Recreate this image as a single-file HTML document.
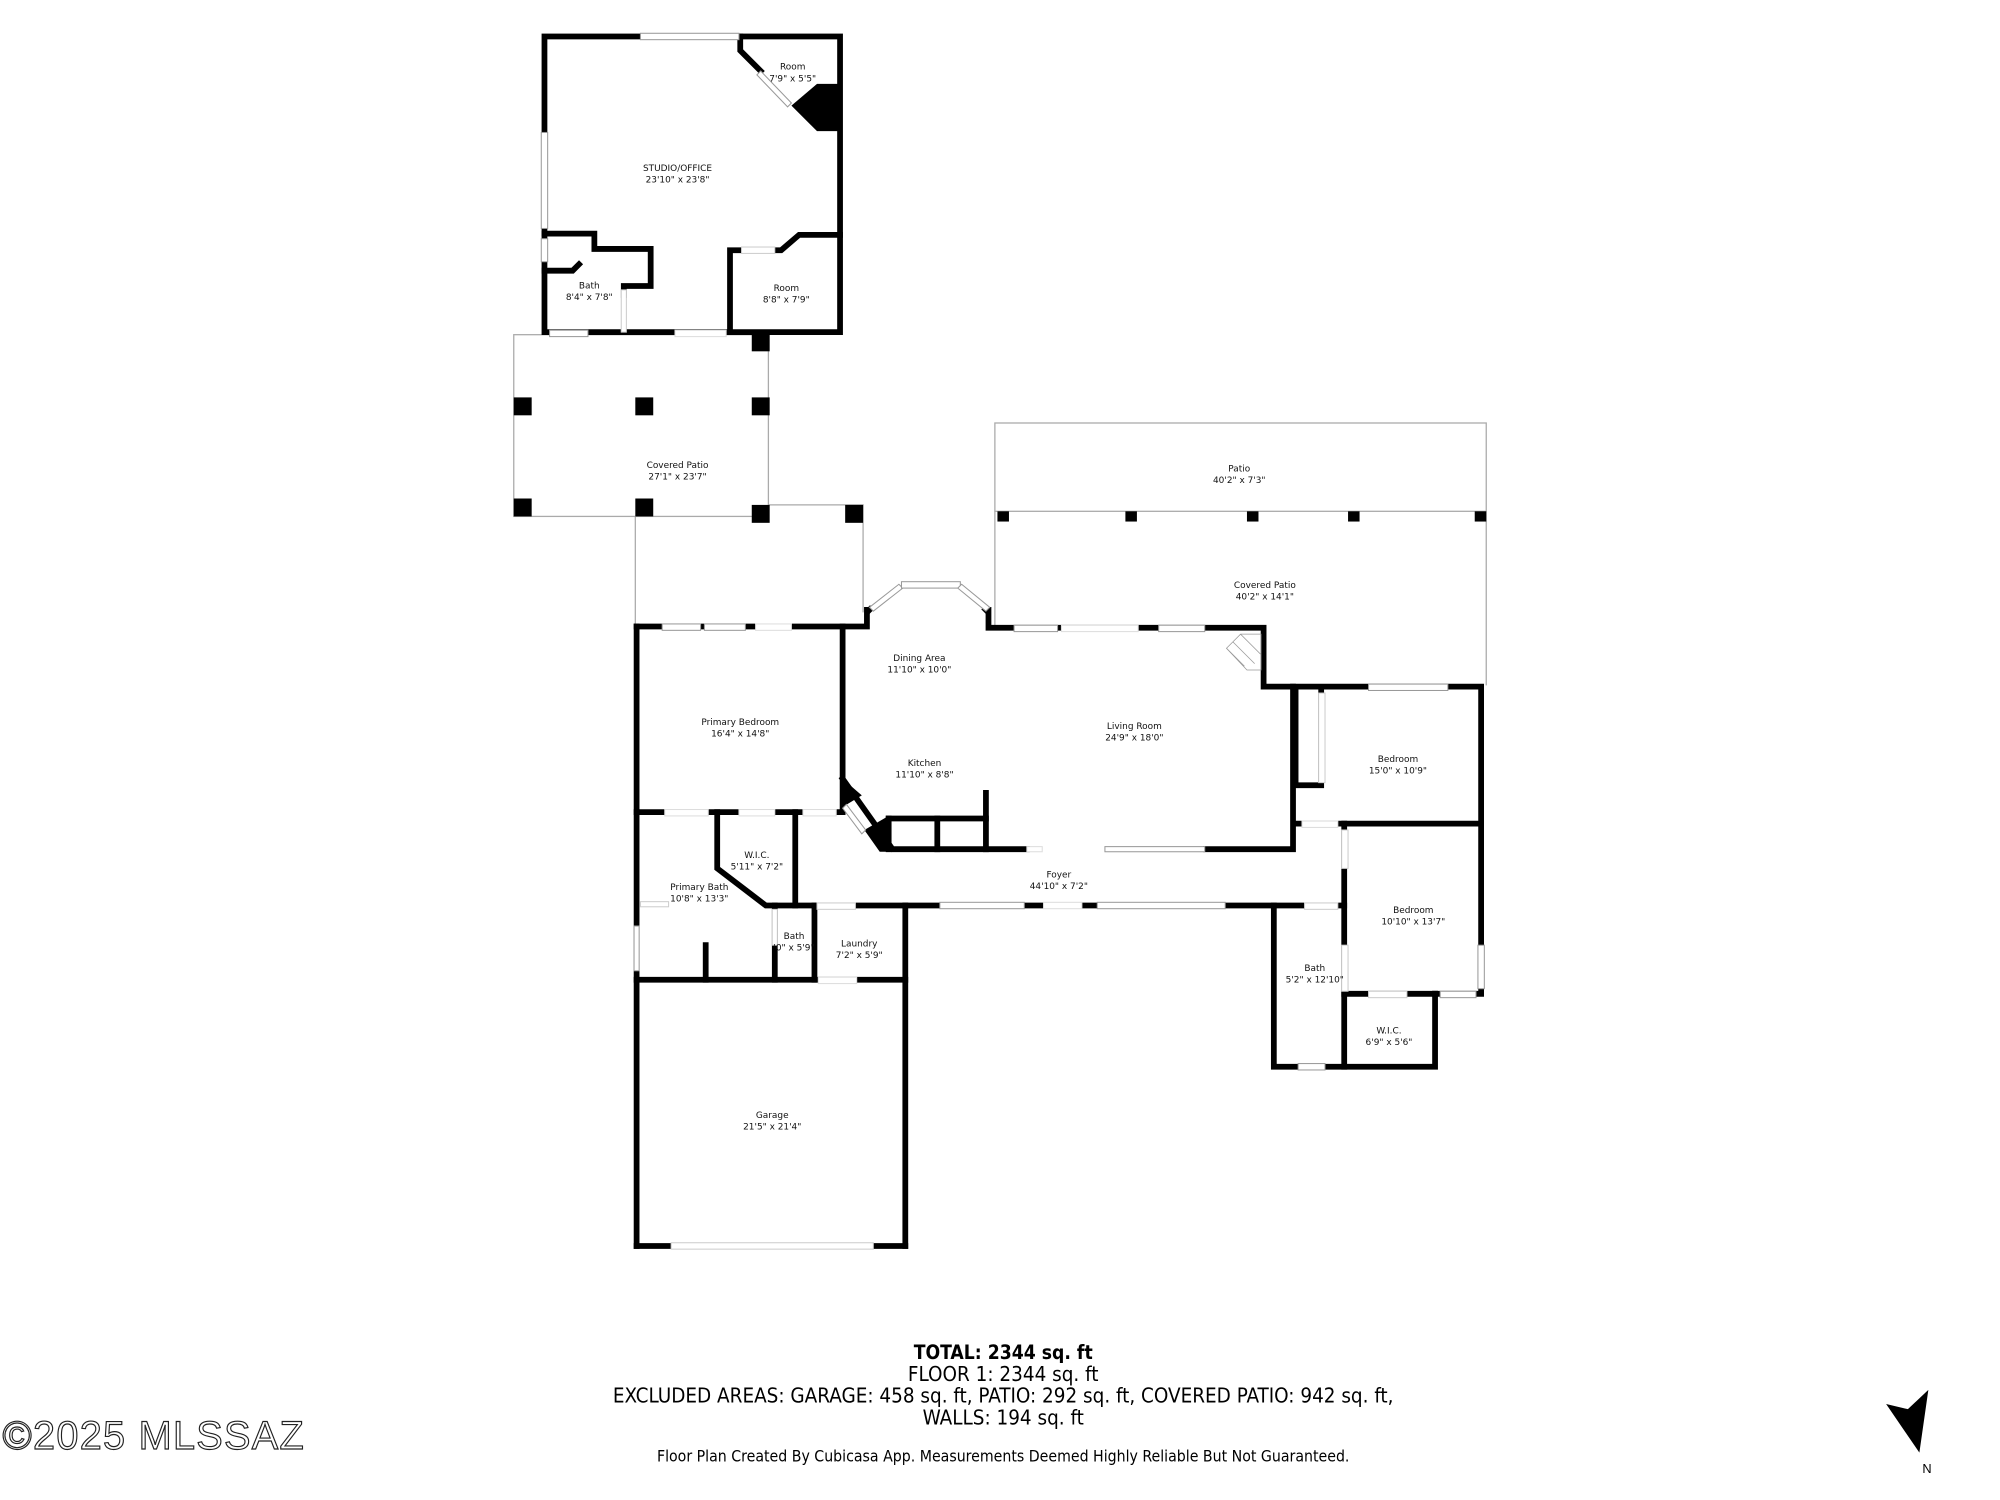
<!DOCTYPE html>
<html><head><meta charset="utf-8"><style>
html,body{margin:0;padding:0;background:#fff;}
svg{display:block}
.t{font-family:"DejaVu Sans","Liberation Sans",sans-serif;font-size:7px;fill:#111;text-anchor:middle}
.f{font-family:"DejaVu Sans Condensed","Liberation Sans Narrow","Liberation Sans",sans-serif;fill:#000;text-anchor:middle}
</style></head><body>
<svg width="2000" height="1500" viewBox="0 0 1563 1172" preserveAspectRatio="none" xmlns="http://www.w3.org/2000/svg">
<rect width="1563" height="1172" fill="#fff"/>
<g transform="translate(-2.5,-1.5)">
<g fill="none" stroke="#aaa" stroke-width="1">
<rect x="404" y="263" width="199" height="142"/>
<polyline points="499,405 499,491"/>
<polyline points="603,396 677,396 677,480"/>
<rect x="780" y="332" width="384" height="69"/>
<polyline points="780,401 780,491"/>
<polyline points="1164,401 1164,537"/>
</g>
<g fill="#000">
<rect x="404" y="312" width="14" height="14"/><rect x="499" y="312" width="14" height="14"/><rect x="590" y="312" width="14" height="14"/>
<rect x="404" y="391" width="14" height="14"/><rect x="499" y="391" width="14" height="14"/><rect x="590" y="396" width="14" height="14"/>
<rect x="663" y="396" width="14" height="14"/><rect x="590" y="262" width="14" height="14"/>
<rect x="782" y="401" width="9" height="8"/><rect x="882" y="401" width="9" height="8"/><rect x="977" y="401" width="9" height="8"/><rect x="1056" y="401" width="9" height="8"/><rect x="1155" y="401" width="9" height="8"/>
</g>
<g fill="none" stroke="#000" stroke-width="4.5" stroke-linecap="square" stroke-linejoin="miter">
<rect x="428" y="30" width="231" height="231"/>
<polyline points="581,30 581,41 597,57"/>
<polyline points="428,184 467,184 467,196 511,196 511,225 490,225 490,232"/>
<polyline points="428,213 450,213 455,208"/>
<polyline points="573,261 573,197 582,197"/>
<polyline points="608,197 613,197 627,185 659,185"/>
<polyline points="500,491 680,491 680,478"/>
<polyline points="775,478 775,492 990,492 990,538 1160,538 1160,778 1124,778"/>
<line x1="500" y1="491" x2="500" y2="975"/>
<line x1="661" y1="491" x2="661" y2="636"/>
<line x1="500" y1="636" x2="661" y2="636"/>
<polyline points="563,636 563,680 601,709 710,709"/>
<line x1="624" y1="636" x2="624" y2="709"/>
<line x1="608" y1="709" x2="608" y2="767"/>
<line x1="639" y1="709" x2="639" y2="767"/>
<line x1="710" y1="709" x2="710" y2="975"/>
<line x1="500" y1="767" x2="710" y2="767"/>
<line x1="554" y1="740" x2="554" y2="767"/>
<polyline points="500,975 527,975"/><polyline points="685,975 710,975"/>
<polyline points="661,610 700,665 805,665"/>
<line x1="773" y1="621" x2="773" y2="665"/>
<polyline points="697,641 773,641"/>
<line x1="697" y1="641" x2="697" y2="665"/><line x1="735" y1="641" x2="735" y2="665"/>
<polyline points="945,665 1013,665 1013,538"/>
<polyline points="710,709 998,709 998,835 1124,835 1124,778"/>
<polyline points="998,709 1053,709"/>
<line x1="1053" y1="645" x2="1053" y2="835"/>
<line x1="1053" y1="778" x2="1124" y2="778"/>
<line x1="1015" y1="645" x2="1160" y2="645"/>
<polyline points="1015,540 1015,615 1035,615 1035,540"/>
</g>
<polygon points="621,84 641,67 657,67 657,104 641,104" fill="#000"/>
<polygon points="661,610 661,632 676,623" fill="#000"/>
<polygon points="678,650 697,639 697,667 690,667" fill="#000"/>
<g fill="#fff" stroke="#999" stroke-width="0.8">
<rect x="503" y="27.5" width="77" height="5"/>
<rect x="425.5" y="105" width="5" height="75"/>
<rect x="425.5" y="188" width="5" height="18"/>
<rect x="432" y="259.5" width="30" height="5"/>
<rect x="530" y="259.5" width="40" height="5" stroke="#ddd"/>
<rect x="488" y="228" width="4" height="33" stroke="#ccc"/>
<rect x="582" y="194.5" width="26" height="5" stroke="#ccc"/>
<rect x="520" y="489" width="30" height="5"/><rect x="553" y="489" width="32" height="5"/>
<rect x="593" y="489" width="28" height="5" stroke="#ddd"/>
<rect x="795" y="490" width="34" height="5"/><rect x="832" y="490" width="60" height="5" stroke="#ddd"/><rect x="908" y="490" width="36" height="5"/>
<rect x="1072" y="536" width="62" height="5"/>
<rect x="1033" y="543" width="5" height="70" stroke="#ccc"/>
<rect x="1020" y="643" width="28" height="5" stroke="#ddd"/>
<rect x="1051" y="650" width="5" height="30" stroke="#ccc"/>
<rect x="1051" y="740" width="5" height="36" stroke="#ccc"/>
<rect x="1022" y="707" width="26" height="5" stroke="#ccc"/>
<rect x="1157.5" y="740" width="5" height="34"/>
<rect x="1128" y="776" width="28" height="5"/>
<rect x="1017" y="832.5" width="21" height="5"/>
<rect x="1072" y="776" width="30" height="5" stroke="#ccc"/>
<rect x="737" y="706.5" width="66" height="5"/><rect x="818" y="706.5" width="30" height="5" stroke="#ddd"/><rect x="860" y="706.5" width="100" height="5"/>
<rect x="866" y="663" width="78" height="4"/>
<rect x="805" y="663" width="12" height="4" stroke="#ddd"/>
<rect x="527" y="972.5" width="158" height="5" stroke="#ccc"/>
<rect x="642" y="765" width="30" height="5" stroke="#ddd"/>
<rect x="522" y="634" width="34" height="5" stroke="#ddd"/><rect x="580" y="634" width="28" height="5" stroke="#ddd"/><rect x="630" y="634" width="26" height="5" stroke="#ddd"/>
<rect x="498" y="725" width="4" height="35"/>
<rect x="606" y="712" width="4" height="28" stroke="#ccc"/>
<rect x="641" y="707" width="30" height="5" stroke="#ccc"/>
<rect x="503" y="706" width="22" height="4" stroke="#ccc"/>
</g>
<g fill="none" stroke="#000" stroke-width="4.5">
<line x1="680" y1="480" x2="684" y2="476"/><line x1="775" y1="480" x2="771" y2="476"/>
</g>
<g fill="#fff" stroke="#999" stroke-width="0.8">
<polygon points="682,476 705,458 708,461 685,479"/>
<rect x="707" y="456" width="46" height="5"/>
<polygon points="754,458 776,476 773,479 751,461"/>
<polygon points="597,57 621,82 618,85 594,60"/>
<polygon points="664,630 679,650 676,653 661,633"/>
</g>
<g stroke="#999" stroke-width="0.6" fill="none">
<polygon points="961,508 972,497 988,497 988,525 977,525"/>
<line x1="966" y1="503" x2="983" y2="520"/><line x1="972" y1="497" x2="988" y2="513"/><line x1="961" y1="508" x2="975" y2="522"/>
</g>
<g class="t">
<text x="622" y="56">Room</text><text x="622" y="65">7'9" x 5'5"</text>
<text x="532" y="135">STUDIO/OFFICE</text><text x="532" y="144">23'10" x 23'8"</text>
<text x="463" y="227">Bath</text><text x="463" y="236">8'4" x 7'8"</text>
<text x="617" y="229">Room</text><text x="617" y="238">8'8" x 7'9"</text>
<text x="532" y="367">Covered Patio</text><text x="532" y="376">27'1" x 23'7"</text>
<text x="971" y="370">Patio</text><text x="971" y="379">40'2" x 7'3"</text>
<text x="991" y="461">Covered Patio</text><text x="991" y="470">40'2" x 14'1"</text>
<text x="721" y="518">Dining Area</text><text x="721" y="527">11'10" x 10'0"</text>
<text x="581" y="568">Primary Bedroom</text><text x="581" y="577">16'4" x 14'8"</text>
<text x="725" y="600">Kitchen</text><text x="725" y="609">11'10" x 8'8"</text>
<text x="889" y="571">Living Room</text><text x="889" y="580">24'9" x 18'0"</text>
<text x="1095" y="597">Bedroom</text><text x="1095" y="606">15'0" x 10'9"</text>
<text x="594" y="672">W.I.C.</text><text x="594" y="681">5'11" x 7'2"</text>
<text x="549" y="697">Primary Bath</text><text x="549" y="706">10'8" x 13'3"</text>
<text x="830" y="687">Foyer</text><text x="830" y="696">44'10" x 7'2"</text>
<text x="1107" y="715">Bedroom</text><text x="1107" y="724">10'10" x 13'7"</text>
<text x="623" y="735">Bath</text><text x="623" y="744">'0" x 5'9"</text>
<text x="674" y="741">Laundry</text><text x="674" y="750">7'2" x 5'9"</text>
<text x="1030" y="760">Bath</text><text x="1030" y="769">5'2" x 12'10"</text>
<text x="1088" y="809">W.I.C.</text><text x="1088" y="818">6'9" x 5'6"</text>
<text x="606" y="875">Garage</text><text x="606" y="884">21'5" x 21'4"</text>
</g>
</g>
<text class="f" x="784" y="1062" font-size="15" font-weight="bold">TOTAL: 2344 sq. ft</text>
<text class="f" x="784" y="1079" font-size="16">FLOOR 1: 2344 sq. ft</text>
<text class="f" x="784" y="1096" font-size="16">EXCLUDED AREAS: GARAGE: 458 sq. ft, PATIO: 292 sq. ft, COVERED PATIO: 942 sq. ft,</text>
<text class="f" x="784" y="1113" font-size="16">WALLS: 194 sq. ft</text>
<text class="f" x="784" y="1142" font-size="12.3">Floor Plan Created By Cubicasa App. Measurements Deemed Highly Reliable But Not Guaranteed.</text>
<text x="2" y="1132" font-family="Liberation Sans Narrow, Liberation Sans, sans-serif" font-size="31" fill="#fff" stroke="#222" stroke-width="0.9" letter-spacing="1">©2025 MLSSAZ</text>
<polygon points="1474,1097 1491,1101 1507,1086 1500,1135" fill="#000"/>
<text x="1506" y="1151" font-family="Liberation Sans, sans-serif" font-size="10" text-anchor="middle" fill="#000">N</text>
</svg>
</body></html>
